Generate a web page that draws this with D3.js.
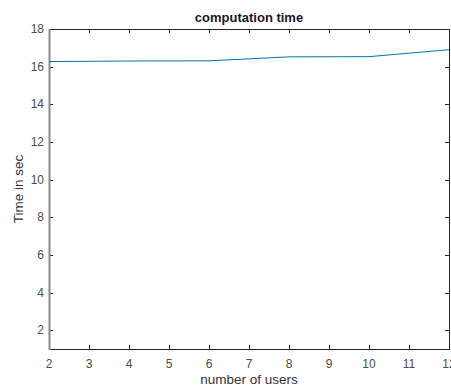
<!DOCTYPE html>
<html>
<head>
<meta charset="utf-8">
<script src="https://cdn.jsdelivr.net/npm/d3@7"></script>
<style>
  body { margin: 0; background: #fff; }
  text { font-family: "Liberation Sans", Arial, sans-serif; }
</style>
</head>
<body>
<script>
    // data
    const users = [2, 4, 6, 8, 10, 12];
    const times = [16.27, 16.3, 16.31, 16.52, 16.53, 16.9];
    const xTicks = [2, 3, 4, 5, 6, 7, 8, 9, 10, 11, 12];
    const yTicks = [2, 4, 6, 8, 10, 12, 14, 16, 18];

    const width = 451, height = 388;
    const mLeft = 49, mRight = 449, mTop = 29, mBottom = 349;

    const xScale = d3.scaleLinear().domain([2, 12]).range([mLeft, mRight]);
    const yScale = d3.scaleLinear().domain([1, 18]).range([mBottom, mTop]);

    const svg = d3.select("body").append("svg")
        .attr("width", width)
        .attr("height", height);

    // inner ticks (top/right mirrors)
    const tickLen = 4;
    const ticks = svg.append("g").attr("stroke", "#262626").attr("stroke-width", 1);
    xTicks.forEach(t => {
        const x = Math.round(xScale(t)) + 0.5;
        ticks.append("line").attr("x1", x).attr("x2", x).attr("y1", mBottom).attr("y2", mBottom - tickLen);
        ticks.append("line").attr("x1", x).attr("x2", x).attr("y1", mTop).attr("y2", mTop + tickLen);
    });
    yTicks.forEach(t => {
        const y = Math.round(yScale(t)) + 0.5;
        ticks.append("line").attr("x1", mLeft).attr("x2", mLeft + tickLen).attr("y1", y).attr("y2", y);
        ticks.append("line").attr("x1", mRight).attr("x2", mRight - tickLen).attr("y1", y).attr("y2", y);
    });

    // box
    svg.append("rect")
        .attr("x", mLeft + 0.5).attr("y", mTop + 0.5)
        .attr("width", mRight - mLeft).attr("height", mBottom - mTop)
        .attr("fill", "none").attr("stroke", "#262626").attr("stroke-width", 1);
    svg.append("line")
        .attr("x1", mLeft + 0.5).attr("x2", mLeft + 0.5).attr("y1", mTop).attr("y2", mBottom + 1)
        .attr("stroke", "#8a8a8a").attr("stroke-width", 2);

    // line
    const line = d3.line().x((d, i) => xScale(users[i])).y(d => yScale(d));
    svg.append("path")
        .datum(times)
        .attr("d", line)
        .attr("fill", "none")
        .attr("stroke", "#0072BD")
        .attr("stroke-width", 1);

    // tick labels
    svg.append("g").selectAll("text").data(xTicks).enter().append("text")
        .attr("x", d => xScale(d))
        .attr("y", mBottom + 19)
        .attr("text-anchor", "middle")
        .attr("font-size", 12)
        .attr("fill", "#4d4d4d")
        .text(d => d);

    svg.append("g").selectAll("text").data(yTicks).enter().append("text")
        .attr("x", mLeft - 5)
        .attr("y", d => yScale(d) + 4)
        .attr("text-anchor", "end")
        .attr("font-size", 12)
        .attr("fill", "#4d4d4d")
        .text(d => d);

    // title and labels
    svg.append("text")
        .attr("x", (mLeft + mRight) / 2).attr("y", 22)
        .attr("text-anchor", "middle")
        .attr("font-size", 13).attr("font-weight", "bold")
        .attr("fill", "#1a1a1a")
        .text("computation time");

    svg.append("text")
        .attr("x", (mLeft + mRight) / 2).attr("y", 384)
        .attr("text-anchor", "middle")
        .attr("font-size", 13.5)
        .attr("fill", "#333")
        .text("number of users");

    svg.append("text")
        .attr("transform", "translate(23," + (mTop + mBottom) / 2 + ") rotate(-90)")
        .attr("text-anchor", "middle")
        .attr("font-size", 13.5)
        .attr("fill", "#333")
        .text("Time in sec");
</script>
</body>
</html>
